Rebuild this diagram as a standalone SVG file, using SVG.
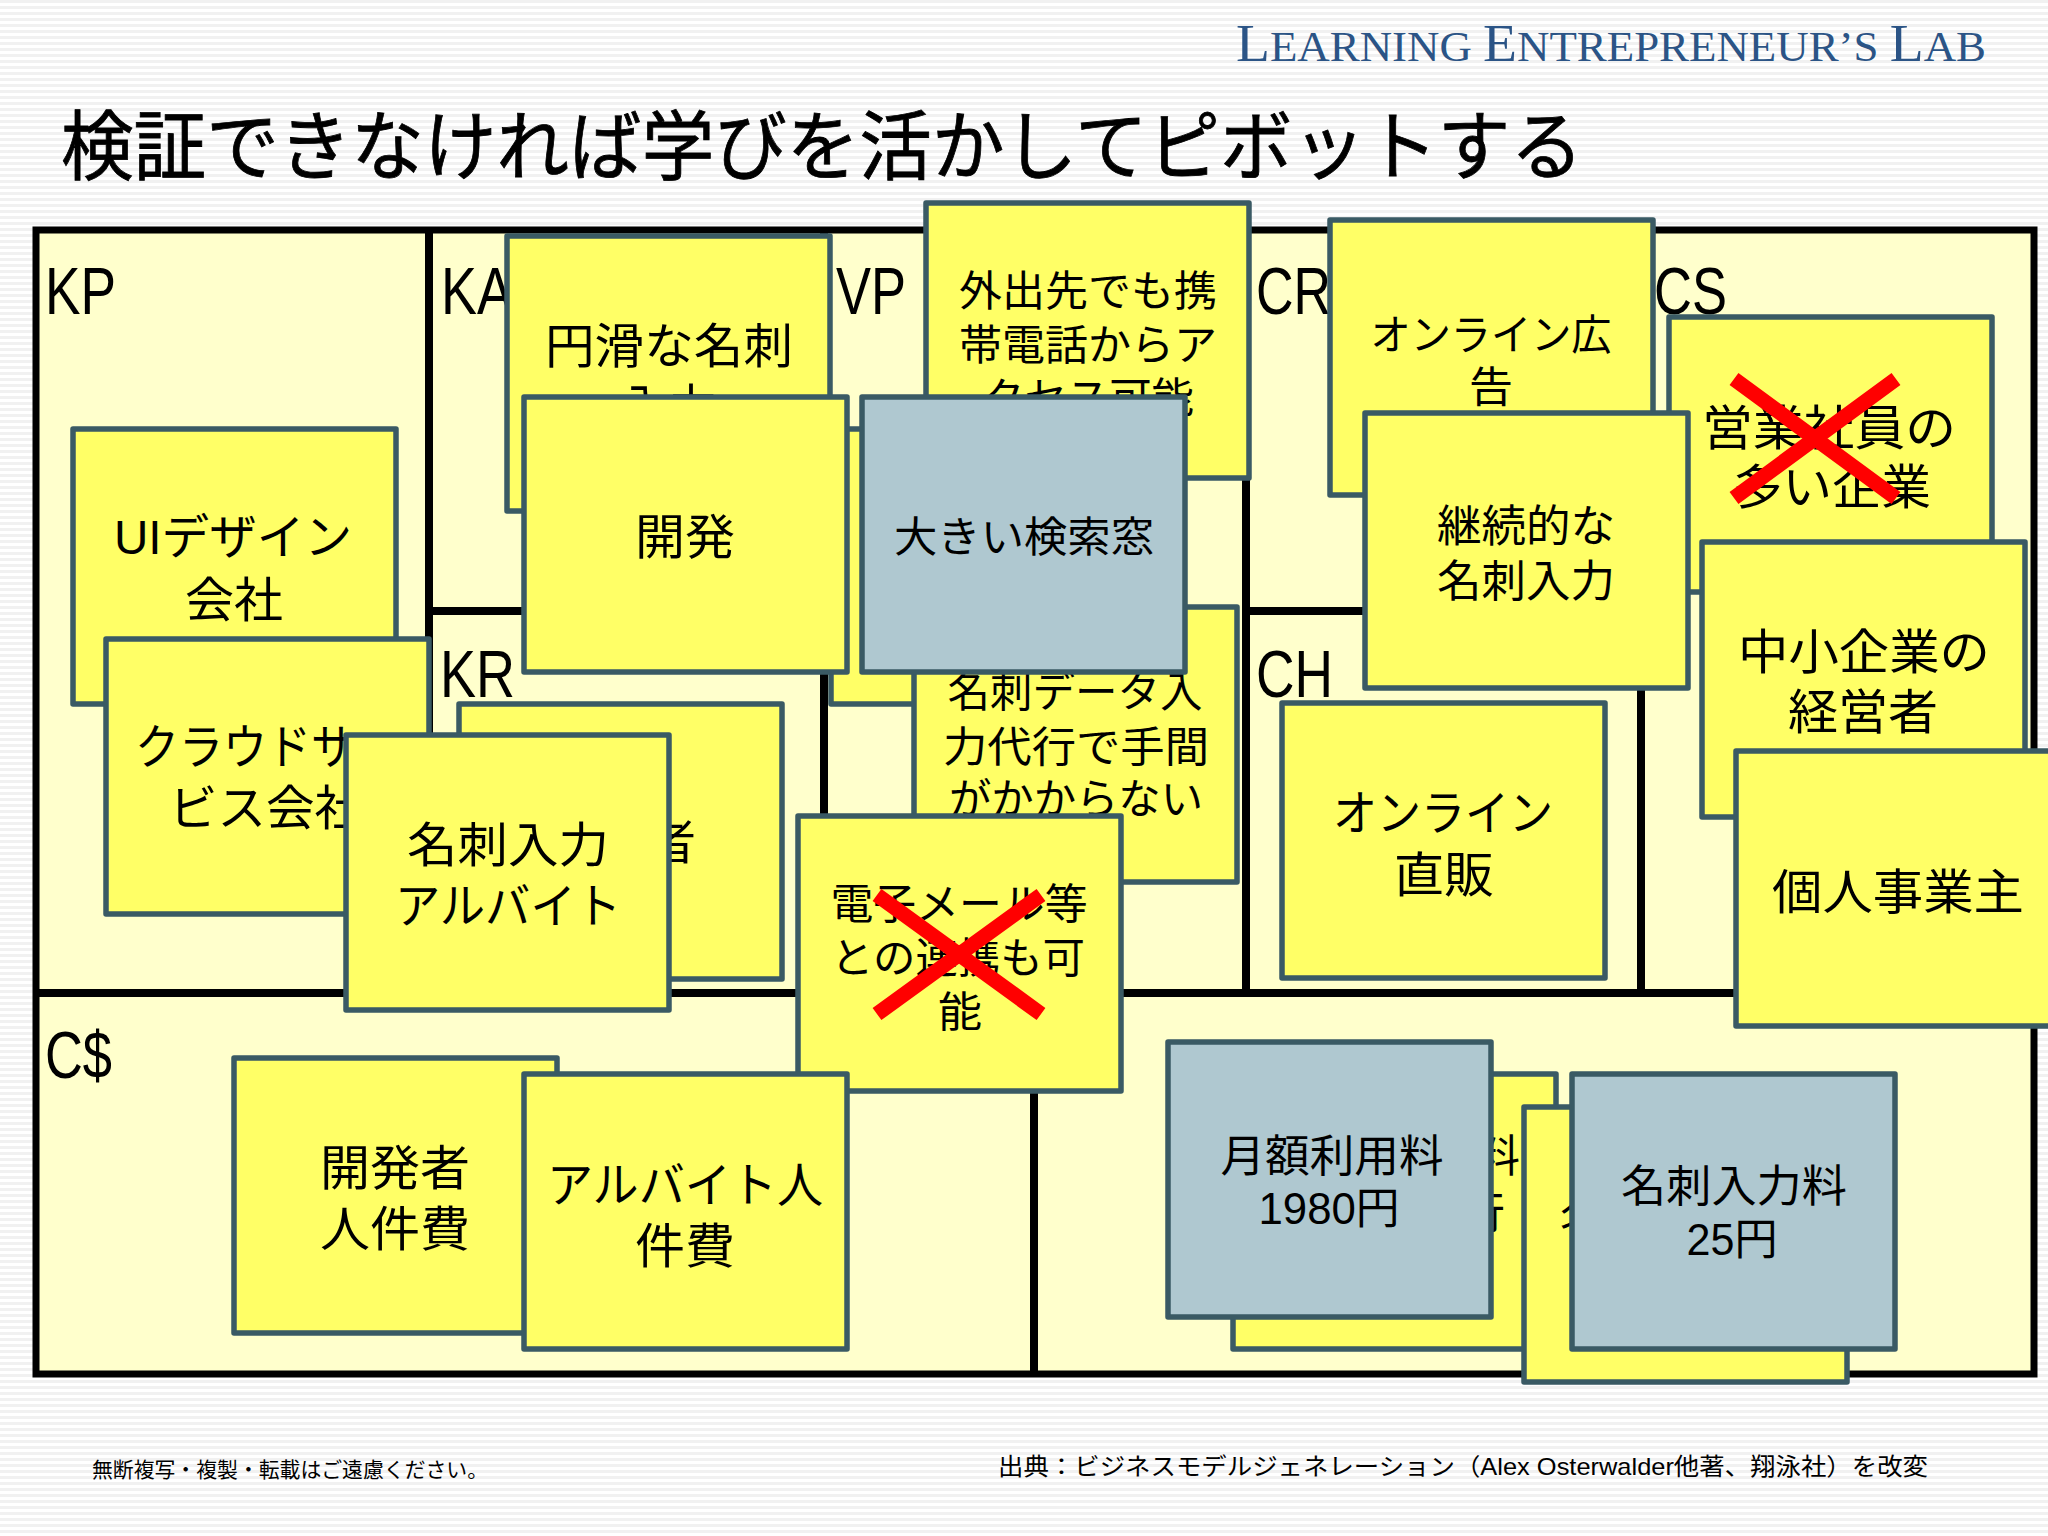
<svg xmlns="http://www.w3.org/2000/svg" width="2048" height="1536" viewBox="0 0 2048 1536">
<style>
text{font-family:"Liberation Sans","Noto Sans CJK JP",sans-serif;fill:#000;text-anchor:middle}
g text{transform:translateY(0.5px)}
.n{fill:#FFFF66;stroke:#3A5A64;stroke-width:5.5;stroke-linejoin:round}
.b{fill:#AFC8D0;stroke:#3A5A64;stroke-width:5.5;stroke-linejoin:round}
.d{stroke:#000;stroke-width:8;fill:none}
.x{stroke:#FF0000;stroke-width:15;fill:none}
.l{font-size:66px;text-anchor:start}
.s48{font-size:48px}.s44{font-size:44px}.s42{font-size:42px}
</style>
<defs>
<pattern id="stripes" width="8" height="6" patternUnits="userSpaceOnUse"><rect width="8" height="3" fill="#F1F1F1"/></pattern>
</defs>
<rect width="2048" height="1536" fill="#FFFFFF"/>
<rect width="2048" height="1536" fill="url(#stripes)"/>
<text id="brand" x="1611" y="61" textLength="750" lengthAdjust="spacingAndGlyphs" style="font-family:'Liberation Serif',serif;font-size:42px;fill:#2B5486"><tspan font-size="52">L</tspan>EARNING <tspan font-size="52">E</tspan>NTREPRENEUR’S <tspan font-size="52">L</tspan>AB</text>
<text id="title" x="822" y="174" font-size="76" textLength="1522" lengthAdjust="spacingAndGlyphs" stroke="#000" stroke-width="0.8">検証できなければ学びを活かしてピボットする</text>
<g id="canvas">
<rect x="36" y="230" width="1998" height="1144" fill="#FFFFCC" stroke="#000" stroke-width="7"/>
<path class="d" d="M429 230V993M429 611H824M824 230V993M1246 230V993M1246 611H1641M1641 230V993M36 993H2034M1034 993V1374"/>
<text class="l" x="45" y="313" textLength="71" lengthAdjust="spacingAndGlyphs">KP</text>
<text class="l" x="441" y="313" textLength="72" lengthAdjust="spacingAndGlyphs">KA</text>
<text class="l" x="836" y="313" textLength="70" lengthAdjust="spacingAndGlyphs">VP</text>
<text class="l" x="1256" y="313" textLength="75" lengthAdjust="spacingAndGlyphs">CR</text>
<text class="l" x="1654" y="313" textLength="73" lengthAdjust="spacingAndGlyphs">CS</text>
<text class="l" x="440" y="696" textLength="75" lengthAdjust="spacingAndGlyphs">KR</text>
<text class="l" x="1256" y="696" textLength="77" lengthAdjust="spacingAndGlyphs">CH</text>
<text class="l" x="45" y="1077" textLength="67" lengthAdjust="spacingAndGlyphs">C$</text>
</g>
<g id="kp1"><rect class="n" x="73" y="429" width="323" height="275"/><text class="s48" x="233" y="553" textLength="238" lengthAdjust="spacingAndGlyphs">UIデザイン</text><text class="s48" x="234" y="616" textLength="98" lengthAdjust="spacingAndGlyphs">会社</text></g>
<g id="kp2"><rect class="n" x="106" y="639" width="323" height="275"/><text class="s48" x="267" y="763" textLength="264" lengthAdjust="spacingAndGlyphs">クラウドサー</text><text class="s48" x="266" y="824" textLength="194" lengthAdjust="spacingAndGlyphs">ビス会社</text></g>
<g id="ka1"><rect class="n" x="507" y="236" width="323" height="275"/><text class="s48" x="669" y="362" textLength="248" lengthAdjust="spacingAndGlyphs">円滑な名刺</text><text class="s48" x="669" y="423" textLength="98" lengthAdjust="spacingAndGlyphs">入力</text></g>
<g id="kr1"><rect class="n" x="459" y="704" width="323" height="275"/><text class="s48" x="622" y="858" textLength="148" lengthAdjust="spacingAndGlyphs">開発者</text></g>
<g id="vp0"><rect class="n" x="831" y="429" width="323" height="275"/></g>
<g id="vp1"><rect class="n" x="926" y="203" width="323" height="275"/><text class="s42" x="1088" y="305" textLength="258" lengthAdjust="spacingAndGlyphs">外出先でも携</text><text class="s42" x="1088" y="359" textLength="258" lengthAdjust="spacingAndGlyphs">帯電話からア</text><text class="s42" x="1088" y="412" textLength="212" lengthAdjust="spacingAndGlyphs">クセス可能</text></g>
<g id="vp2"><rect class="n" x="914" y="607" width="323" height="275"/><text class="s42" x="1075" y="706" textLength="255" lengthAdjust="spacingAndGlyphs">名刺データ入</text><text class="s42" x="1076" y="761" textLength="266" lengthAdjust="spacingAndGlyphs">力代行で手間</text><text class="s42" x="1076" y="813" textLength="254" lengthAdjust="spacingAndGlyphs">がかからない</text></g>
<g id="ka2"><rect class="n" x="524" y="397" width="323" height="275"/><text class="s48" x="685" y="553" textLength="100" lengthAdjust="spacingAndGlyphs">開発</text></g>
<g id="vp3"><rect class="b" x="862" y="397" width="323" height="275"/><text class="s42" x="1024" y="551" textLength="260" lengthAdjust="spacingAndGlyphs">大きい検索窓</text></g>
<g id="ka3"><rect class="n" x="346" y="735" width="323" height="275"/><text class="s48" x="508" y="861" textLength="202" lengthAdjust="spacingAndGlyphs">名刺入力</text><text class="s48" x="508" y="922" textLength="226" lengthAdjust="spacingAndGlyphs">アルバイト</text></g>
<g id="vp4"><rect class="n" x="798" y="816" width="323" height="275"/><text class="s42" x="959" y="918" textLength="257" lengthAdjust="spacingAndGlyphs">電子メール等</text><text class="s42" x="958" y="972" textLength="254" lengthAdjust="spacingAndGlyphs">との連携も可</text><text class="s42" x="960" y="1026" textLength="44" lengthAdjust="spacingAndGlyphs">能</text></g>
<g id="cr1"><rect class="n" x="1330" y="220" width="323" height="275"/><text class="s42" x="1491" y="349" textLength="241" lengthAdjust="spacingAndGlyphs">オンライン広</text><text class="s42" x="1491" y="401" textLength="44" lengthAdjust="spacingAndGlyphs">告</text></g>
<g id="cs1"><rect class="n" x="1669" y="317" width="323" height="275"/><text class="s48" x="1829" y="444" textLength="254" lengthAdjust="spacingAndGlyphs">営業社員の</text><text class="s48" x="1832" y="503" textLength="198" lengthAdjust="spacingAndGlyphs">多い企業</text></g>
<g id="cr2"><rect class="n" x="1365" y="413" width="323" height="275"/><text class="s44" x="1526" y="541" textLength="178" lengthAdjust="spacingAndGlyphs">継続的な</text><text class="s44" x="1526" y="596" textLength="178" lengthAdjust="spacingAndGlyphs">名刺入力</text></g>
<g id="cs2"><rect class="n" x="1702" y="542" width="323" height="275"/><text class="s48" x="1864" y="668" textLength="252" lengthAdjust="spacingAndGlyphs">中小企業の</text><text class="s48" x="1863" y="728" textLength="150" lengthAdjust="spacingAndGlyphs">経営者</text></g>
<g id="cs3"><rect class="n" x="1736" y="751" width="323" height="275"/><text class="s48" x="1898" y="908" textLength="252" lengthAdjust="spacingAndGlyphs">個人事業主</text></g>
<g id="ch1"><rect class="n" x="1282" y="703" width="323" height="275"/><text class="s48" x="1443" y="829" textLength="220" lengthAdjust="spacingAndGlyphs">オンライン</text><text class="s48" x="1444" y="891" textLength="100" lengthAdjust="spacingAndGlyphs">直販</text></g>
<g id="c1"><rect class="n" x="234" y="1058" width="323" height="275"/><text class="s48" x="395" y="1184" textLength="150" lengthAdjust="spacingAndGlyphs">開発者</text><text class="s48" x="395" y="1245" textLength="150" lengthAdjust="spacingAndGlyphs">人件費</text></g>
<g id="c2"><rect class="n" x="524" y="1074" width="323" height="275"/><text class="s48" x="685" y="1201" textLength="276" lengthAdjust="spacingAndGlyphs">アルバイト人</text><text class="s48" x="685" y="1262" textLength="100" lengthAdjust="spacingAndGlyphs">件費</text></g>
<g id="r1"><rect class="n" x="1233" y="1074" width="323" height="275"/><text class="s44" x="1498" y="1171">料</text><text class="s44" x="1483" y="1228">行</text></g>
<g id="r2"><rect class="b" x="1168" y="1042" width="323" height="275"/><text class="s44" x="1332" y="1171" textLength="223" lengthAdjust="spacingAndGlyphs">月額利用料</text><text class="s44" x="1329" y="1223" textLength="141" lengthAdjust="spacingAndGlyphs">1980円</text></g>
<g id="r3"><rect class="n" x="1524" y="1107" width="323" height="275"/><text class="s44" x="1582" y="1233">名</text></g>
<g id="r4"><rect class="b" x="1572" y="1074" width="323" height="275"/><text class="s44" x="1734" y="1201" textLength="226" lengthAdjust="spacingAndGlyphs">名刺入力料</text><text class="s44" x="1732" y="1254" textLength="91" lengthAdjust="spacingAndGlyphs">25円</text></g>
<g id="cross1"><path class="x" d="M1734 379L1896 498M1896 379L1734 498"/></g>
<g id="cross2"><path class="x" d="M877 895L1041 1014M1041 895L877 1014"/></g>
<text id="note" x="290" y="1477" font-size="21" textLength="396" lengthAdjust="spacingAndGlyphs">無断複写・複製・転載はご遠慮ください。</text>
<text id="source" x="1463" y="1475" font-size="24" textLength="930" lengthAdjust="spacingAndGlyphs">出典：ビジネスモデルジェネレーション（Alex Osterwalder他著、翔泳社）を改変</text>
</svg>
